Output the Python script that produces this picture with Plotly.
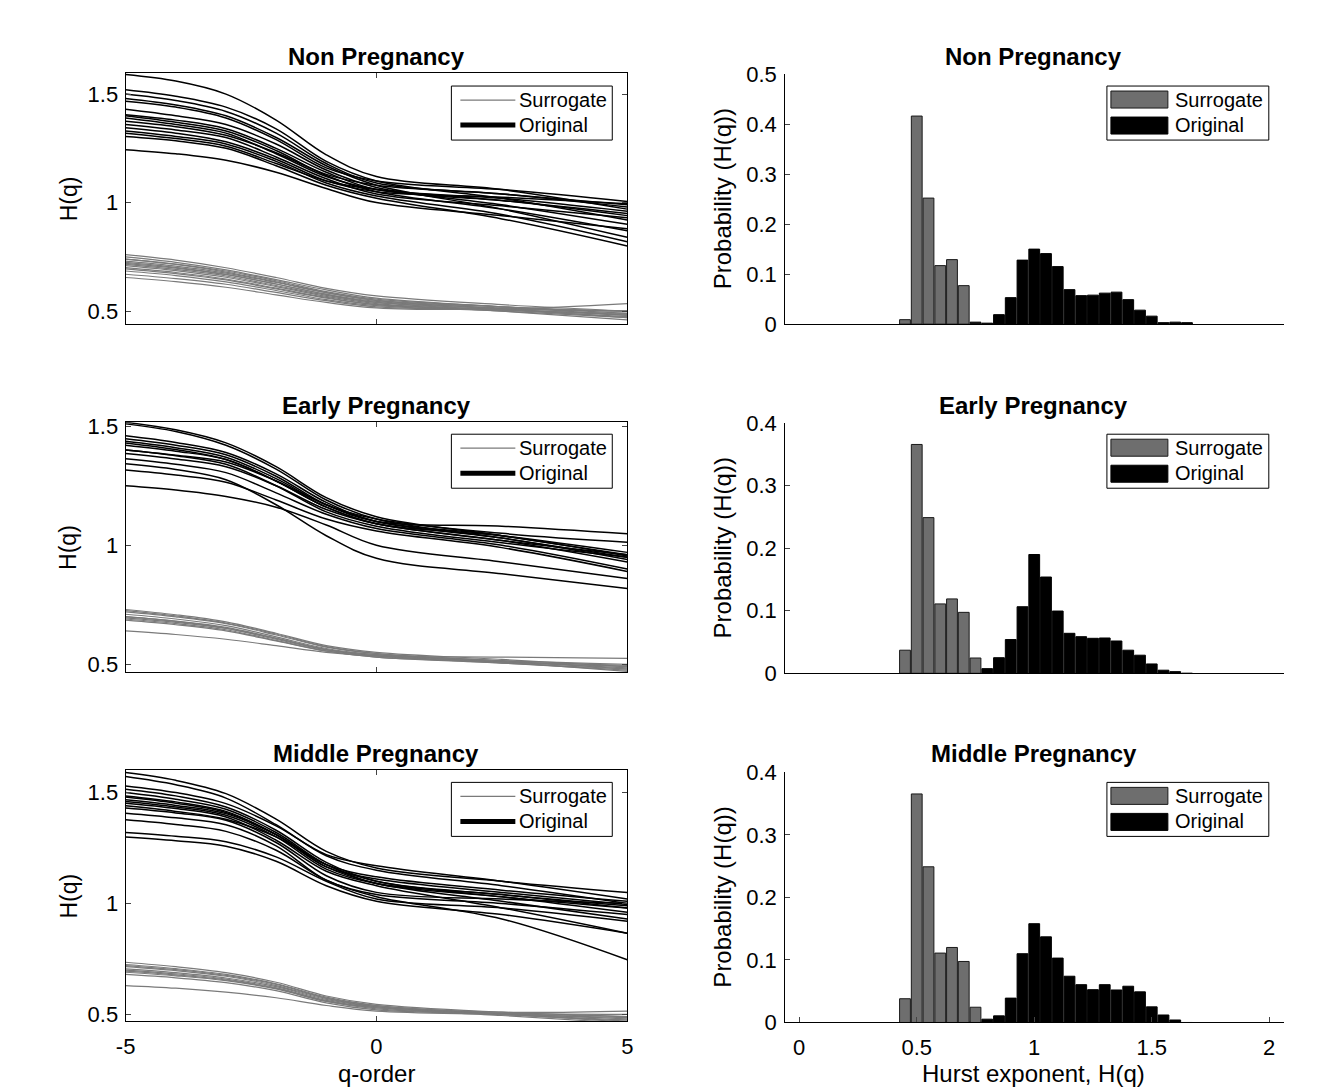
import plotly.graph_objects as go

# figure canvas; screen coordinates of the reference are mapped onto it below
W, H = 1322, 1110
FONT = "Liberation Sans, Arial, Helvetica, sans-serif"

# ---------------- data ----------------
Q_PTS = [-5, -4, -3, -2, -1, 0, 2.5, 5]

non_orig = [
    [1.590, 1.560, 1.500, 1.380, 1.220, 1.120, 1.060, 0.970],
    [1.520, 1.490, 1.440, 1.340, 1.190, 1.100, 1.020, 0.920],
    [1.500, 1.470, 1.420, 1.320, 1.180, 1.090, 1.040, 0.990],
    [1.480, 1.450, 1.400, 1.300, 1.170, 1.080, 0.970, 0.840],
    [1.467, 1.440, 1.390, 1.290, 1.160, 1.100, 1.060, 1.005],
    [1.430, 1.400, 1.360, 1.270, 1.150, 1.070, 0.990, 0.900],
    [1.405, 1.380, 1.340, 1.250, 1.140, 1.060, 1.010, 0.950],
    [1.400, 1.370, 1.330, 1.240, 1.125, 1.050, 0.970, 0.870],
    [1.375, 1.350, 1.310, 1.230, 1.130, 1.080, 1.040, 0.980],
    [1.360, 1.335, 1.300, 1.210, 1.110, 1.040, 0.985, 0.930],
    [1.345, 1.320, 1.280, 1.200, 1.100, 1.050, 1.025, 0.995],
    [1.330, 1.305, 1.270, 1.190, 1.090, 1.030, 0.945, 0.820],
    [1.305, 1.285, 1.250, 1.170, 1.080, 1.020, 0.925, 0.800],
    [1.244, 1.225, 1.195, 1.140, 1.065, 1.000, 0.940, 0.880],
    [1.390, 1.360, 1.320, 1.225, 1.120, 1.060, 1.020, 0.960],
    [1.320, 1.295, 1.260, 1.180, 1.100, 1.060, 1.010, 0.940],
]
non_surr = [
    [0.760, 0.735, 0.700, 0.655, 0.605, 0.570, 0.530, 0.500],
    [0.750, 0.725, 0.690, 0.645, 0.598, 0.560, 0.520, 0.480],
    [0.740, 0.717, 0.685, 0.640, 0.590, 0.555, 0.520, 0.490],
    [0.730, 0.707, 0.675, 0.632, 0.585, 0.550, 0.510, 0.470],
    [0.720, 0.698, 0.668, 0.625, 0.578, 0.545, 0.515, 0.500],
    [0.715, 0.692, 0.662, 0.618, 0.573, 0.540, 0.510, 0.480],
    [0.710, 0.687, 0.656, 0.613, 0.568, 0.535, 0.500, 0.460],
    [0.700, 0.678, 0.648, 0.606, 0.563, 0.530, 0.505, 0.490],
    [0.695, 0.673, 0.644, 0.602, 0.560, 0.530, 0.510, 0.500],
    [0.685, 0.664, 0.635, 0.595, 0.553, 0.525, 0.500, 0.470],
    [0.670, 0.650, 0.624, 0.586, 0.548, 0.520, 0.505, 0.485],
    [0.655, 0.636, 0.610, 0.575, 0.540, 0.515, 0.510, 0.535],
    [0.740, 0.715, 0.680, 0.635, 0.585, 0.550, 0.520, 0.500],
    [0.725, 0.702, 0.670, 0.625, 0.577, 0.540, 0.505, 0.475],
]

early_orig = [
    [1.517, 1.485, 1.430, 1.330, 1.200, 1.120, 1.040, 0.960],
    [1.510, 1.478, 1.420, 1.320, 1.190, 1.110, 1.030, 0.950],
    [1.460, 1.432, 1.390, 1.300, 1.180, 1.100, 1.030, 0.940],
    [1.447, 1.420, 1.380, 1.290, 1.170, 1.100, 1.080, 1.048],
    [1.437, 1.410, 1.370, 1.280, 1.170, 1.110, 1.050, 1.013],
    [1.420, 1.395, 1.360, 1.270, 1.160, 1.090, 1.020, 0.930],
    [1.400, 1.376, 1.340, 1.250, 1.140, 1.080, 1.010, 0.950],
    [1.385, 1.362, 1.330, 1.250, 1.150, 1.090, 1.020, 0.960],
    [1.363, 1.340, 1.305, 1.220, 1.130, 1.070, 1.000, 0.900],
    [1.342, 1.318, 1.275, 1.170, 1.040, 0.945, 0.880, 0.818],
    [1.316, 1.295, 1.265, 1.190, 1.110, 1.060, 0.990, 0.890],
    [1.250, 1.232, 1.205, 1.160, 1.085, 1.000, 0.930, 0.860],
    [1.430, 1.402, 1.360, 1.270, 1.160, 1.090, 1.040, 0.970],
    [1.400, 1.378, 1.350, 1.270, 1.170, 1.100, 1.040, 0.955],
]
early_surr = [
    [0.730, 0.708, 0.678, 0.630, 0.578, 0.550, 0.520, 0.490],
    [0.720, 0.699, 0.670, 0.623, 0.572, 0.545, 0.515, 0.480],
    [0.710, 0.690, 0.662, 0.615, 0.566, 0.540, 0.510, 0.490],
    [0.700, 0.681, 0.655, 0.610, 0.562, 0.535, 0.510, 0.485],
    [0.695, 0.676, 0.650, 0.605, 0.560, 0.535, 0.505, 0.480],
    [0.690, 0.671, 0.645, 0.600, 0.556, 0.530, 0.505, 0.475],
    [0.685, 0.666, 0.640, 0.598, 0.555, 0.530, 0.510, 0.495],
    [0.640, 0.625, 0.605, 0.578, 0.550, 0.535, 0.530, 0.525],
    [0.700, 0.680, 0.652, 0.608, 0.562, 0.540, 0.515, 0.500],
    [0.725, 0.703, 0.673, 0.627, 0.574, 0.545, 0.510, 0.470],
]

mid_orig = [
    [1.590, 1.555, 1.495, 1.380, 1.235, 1.160, 1.100, 1.050],
    [1.572, 1.535, 1.475, 1.355, 1.215, 1.150, 1.080, 1.000],
    [1.530, 1.500, 1.450, 1.350, 1.220, 1.170, 1.100, 1.020],
    [1.515, 1.485, 1.435, 1.330, 1.185, 1.100, 1.040, 0.990],
    [1.500, 1.470, 1.425, 1.320, 1.175, 1.090, 1.030, 0.960],
    [1.485, 1.458, 1.415, 1.310, 1.165, 1.090, 1.010, 0.930],
    [1.467, 1.442, 1.405, 1.310, 1.175, 1.100, 1.030, 0.980],
    [1.452, 1.428, 1.390, 1.285, 1.145, 1.080, 0.980, 0.866],
    [1.430, 1.408, 1.375, 1.275, 1.125, 1.050, 1.020, 1.000],
    [1.407, 1.386, 1.355, 1.260, 1.105, 1.040, 1.000, 0.950],
    [1.377, 1.356, 1.325, 1.240, 1.105, 1.030, 0.930, 0.746],
    [1.320, 1.303, 1.278, 1.210, 1.100, 1.020, 0.980, 0.920],
    [1.300, 1.283, 1.258, 1.190, 1.080, 1.010, 0.950, 0.866],
    [1.460, 1.435, 1.398, 1.300, 1.155, 1.090, 1.040, 0.980],
    [1.440, 1.415, 1.380, 1.300, 1.175, 1.120, 1.060, 1.010],
    [1.480, 1.452, 1.410, 1.310, 1.165, 1.110, 1.050, 0.995],
]
mid_surr = [
    [0.735, 0.715, 0.688, 0.645, 0.583, 0.545, 0.510, 0.490],
    [0.725, 0.706, 0.680, 0.638, 0.578, 0.540, 0.505, 0.480],
    [0.715, 0.697, 0.672, 0.630, 0.572, 0.535, 0.500, 0.475],
    [0.705, 0.688, 0.664, 0.625, 0.568, 0.535, 0.505, 0.490],
    [0.700, 0.683, 0.659, 0.620, 0.563, 0.530, 0.500, 0.470],
    [0.690, 0.674, 0.652, 0.615, 0.558, 0.525, 0.505, 0.500],
    [0.680, 0.665, 0.643, 0.607, 0.552, 0.520, 0.500, 0.465],
    [0.630, 0.618, 0.600, 0.575, 0.540, 0.515, 0.500, 0.485],
    [0.720, 0.702, 0.676, 0.635, 0.574, 0.540, 0.510, 0.515],
    [0.695, 0.678, 0.655, 0.617, 0.560, 0.530, 0.495, 0.460],
]

SURR_BINS = [0.45, 0.50, 0.55, 0.60, 0.65, 0.70, 0.75]
ORIG_BINS = [0.75, 0.80, 0.85, 0.90, 0.95, 1.00, 1.05, 1.10, 1.15, 1.20,
             1.25, 1.30, 1.35, 1.40, 1.45, 1.50, 1.55, 1.60, 1.65]

non_surr_prob = [0.009, 0.416, 0.252, 0.117, 0.129, 0.077, 0.0]
non_orig_prob = [0.004, 0.002, 0.019, 0.053, 0.128, 0.150, 0.141, 0.115, 0.069, 0.057,
                 0.058, 0.062, 0.064, 0.049, 0.028, 0.016, 0.003, 0.004, 0.003]
early_surr_prob = [0.037, 0.366, 0.249, 0.111, 0.119, 0.0975, 0.0245]
early_orig_prob = [0.0, 0.0075, 0.025, 0.054, 0.1065, 0.190, 0.154, 0.0996, 0.064, 0.0586,
                   0.056, 0.0565, 0.0517, 0.037, 0.029, 0.015, 0.005, 0.0027, 0.0]
mid_surr_prob = [0.038, 0.3655, 0.249, 0.111, 0.120, 0.0976, 0.0244]
mid_orig_prob = [0.002, 0.0053, 0.0106, 0.039, 0.110, 0.158, 0.137, 0.103, 0.074, 0.0605,
                 0.0525, 0.0605, 0.052, 0.058, 0.049, 0.025, 0.012, 0.004, 0.0]

TITLES = ["Non Pregnancy", "Early Pregnancy", "Middle Pregnancy"]
LEGEND_LABELS = ["Surrogate", "Original"]
LEFT_TICKS = [0.5, 1, 1.5]
LEFT_TICKTEXT = ["0.5", "1", "1.5"]
QTICKS = [-5, 0, 5]
QTICKTEXT = ["-5", "0", "5"]
HTICKS = [0, 0.5, 1, 1.5, 2]
HTICKTEXT = ["0", "0.5", "1", "1.5", "2"]

# ---------------- styling ----------------
GRAY = "#6e6e6e"
LINEGRAY = "#7a7a7a"
TICK_SIZE = 22
TITLE_SIZE = 24
LABEL_SIZE = 24
LEG_SIZE = 20

# screen (reference pixel) -> figure pixel
SX, OX = 0.9886, 9.3
SY, OY = 0.977, 13.0


def fx(x):
    return (x - OX) / SX


def fy(y):
    return (y - OY) / SY


def px_x(x):
    return fx(x) / W


def px_y(y):
    return 1 - fy(y) / H


left_rows = [(74, 325), (423, 673), (771, 1022)]
right_rows = [(75, 325), (424, 674), (773, 1023)]
left_yranges = [[0.44, 1.597], [0.466, 1.517], [0.468, 1.60]]
right_yranges = [[0, 0.5], [0, 0.4], [0, 0.4]]
title_y = [57, 406, 754]
legend_off = [0, 348, 696]

orig_sets = [non_orig, early_orig, mid_orig]
surr_sets = [non_surr, early_surr, mid_surr]
hist_surr = [non_surr_prob, early_surr_prob, mid_surr_prob]
hist_orig = [non_orig_prob, early_orig_prob, mid_orig_prob]

fig = go.Figure()
layout = dict(
    width=W, height=H, margin=dict(l=0, r=0, t=0, b=0),
    paper_bgcolor="white", plot_bgcolor="white",
    font=dict(family=FONT, size=TICK_SIZE, color="black"),
    barmode="overlay", showlegend=False,
)
annotations = []
shapes = []

for i in range(3):
    lx = "x" if i == 0 else f"x{2 * i + 1}"
    ly = "y" if i == 0 else f"y{2 * i + 1}"
    rx = f"x{2 * i + 2}"
    ry = f"y{2 * i + 2}"

    for s in surr_sets[i]:
        fig.add_trace(go.Scatter(x=Q_PTS, y=s, mode="lines", xaxis=lx, yaxis=ly,
                                 line=dict(color=LINEGRAY, width=1.2, shape="spline", smoothing=1.0),
                                 hoverinfo="skip"))
    for o in orig_sets[i]:
        fig.add_trace(go.Scatter(x=Q_PTS, y=o, mode="lines", xaxis=lx, yaxis=ly,
                                 line=dict(color="black", width=1.5, shape="spline", smoothing=1.0),
                                 hoverinfo="skip"))

    fig.add_trace(go.Bar(x=ORIG_BINS, y=hist_orig[i], xaxis=rx, yaxis=ry, width=0.046,
                         marker=dict(color="black", line=dict(color="black", width=1))))
    fig.add_trace(go.Bar(x=SURR_BINS, y=hist_surr[i], xaxis=rx, yaxis=ry, width=0.046,
                         marker=dict(color=GRAY, line=dict(color="#1a1a1a", width=1))))

    t, b = left_rows[i]
    laxis = dict(domain=[px_y(b), px_y(t)], range=left_yranges[i], anchor=lx,
                 tickvals=LEFT_TICKS, ticktext=LEFT_TICKTEXT, ticks="inside", ticklen=5,
                 showline=True, linecolor="black", linewidth=1, mirror="ticks",
                 showgrid=False, zeroline=False, ticklabelstandoff=2,
                 tickfont=dict(size=TICK_SIZE))
    xaxis_l = dict(domain=[px_x(125), px_x(627)], range=[-5, 5], anchor=ly,
                   tickvals=QTICKS, ticktext=QTICKTEXT, ticks="inside", ticklen=5,
                   showline=True, linecolor="black", linewidth=1, mirror="ticks",
                   showgrid=False, zeroline=False, showticklabels=(i == 2),
                   ticklabelstandoff=5, tickfont=dict(size=TICK_SIZE))
    t2, b2 = right_rows[i]
    raxis = dict(domain=[px_y(b2), px_y(t2)], range=right_yranges[i], anchor=rx,
                 dtick=0.1, ticks="inside", ticklen=5, showline=True, linecolor="black",
                 linewidth=1, showgrid=False, zeroline=False, ticklabelstandoff=3,
                 tickfont=dict(size=TICK_SIZE))
    xaxis_r = dict(domain=[px_x(785), px_x(1284)], range=[-0.06, 2.062], anchor=ry,
                   tickvals=HTICKS, ticktext=HTICKTEXT,
                   ticks="inside" if i == 2 else "", ticklen=5, showline=True,
                   linecolor="black", linewidth=1, showgrid=False, zeroline=False,
                   showticklabels=(i == 2), ticklabelstandoff=5,
                   tickfont=dict(size=TICK_SIZE))

    layout["xaxis" if i == 0 else f"xaxis{2 * i + 1}"] = xaxis_l
    layout["yaxis" if i == 0 else f"yaxis{2 * i + 1}"] = laxis
    layout[f"xaxis{2 * i + 2}"] = xaxis_r
    layout[f"yaxis{2 * i + 2}"] = raxis

    for cx in (376, 1034):
        annotations.append(dict(text=f"<b>{TITLES[i]}</b>", x=px_x(cx), y=px_y(title_y[i]),
                                xref="paper", yref="paper", showarrow=False,
                                xanchor="center", yanchor="middle",
                                font=dict(size=TITLE_SIZE, family=FONT)))
    annotations.append(dict(text="H(q)", x=px_x(68), y=px_y((t + b) / 2), xref="paper",
                            yref="paper", showarrow=False, textangle=-90, xanchor="center",
                            yanchor="middle", font=dict(size=LABEL_SIZE - 1, family=FONT)))
    annotations.append(dict(text="Probability (H(q))", x=px_x(722), y=px_y((t2 + b2) / 2),
                            xref="paper", yref="paper", showarrow=False, textangle=-90,
                            xanchor="center", yanchor="middle",
                            font=dict(size=LABEL_SIZE, family=FONT)))

    off = legend_off[i]
    shapes.append(dict(type="rect", xref="paper", yref="paper",
                       x0=px_x(451), x1=px_x(612), y0=px_y(141 + off), y1=px_y(87 + off),
                       line=dict(color="black", width=1), fillcolor="white", layer="above"))
    shapes.append(dict(type="line", xref="paper", yref="paper",
                       x0=px_x(460), x1=px_x(515), y0=px_y(101 + off), y1=px_y(101 + off),
                       line=dict(color=LINEGRAY, width=1.2), layer="above"))
    shapes.append(dict(type="line", xref="paper", yref="paper",
                       x0=px_x(460), x1=px_x(515), y0=px_y(126 + off), y1=px_y(126 + off),
                       line=dict(color="black", width=5), layer="above"))
    shapes.append(dict(type="rect", xref="paper", yref="paper",
                       x0=px_x(1107), x1=px_x(1269), y0=px_y(141 + off), y1=px_y(87 + off),
                       line=dict(color="black", width=1), fillcolor="white", layer="above"))
    shapes.append(dict(type="rect", xref="paper", yref="paper",
                       x0=px_x(1111), x1=px_x(1168), y0=px_y(109 + off), y1=px_y(92 + off),
                       line=dict(color="#1a1a1a", width=1), fillcolor=GRAY, layer="above"))
    shapes.append(dict(type="rect", xref="paper", yref="paper",
                       x0=px_x(1111), x1=px_x(1168), y0=px_y(135 + off), y1=px_y(118 + off),
                       line=dict(color="black", width=1), fillcolor="black", layer="above"))
    for lab, yy in zip(LEGEND_LABELS, (101, 126)):
        for tx in (517, 1173):
            annotations.append(dict(text=lab, x=px_x(tx), y=px_y(yy + off), xref="paper",
                                    yref="paper", showarrow=False, xanchor="left",
                                    yanchor="middle", font=dict(size=LEG_SIZE, family=FONT)))

annotations.append(dict(text="q-order", x=px_x(376), y=px_y(1074), xref="paper", yref="paper",
                        showarrow=False, xanchor="center", yanchor="middle",
                        font=dict(size=LABEL_SIZE, family=FONT)))
annotations.append(dict(text="Hurst exponent, H(q)", x=px_x(1034), y=px_y(1074), xref="paper",
                        yref="paper", showarrow=False, xanchor="center", yanchor="middle",
                        font=dict(size=LABEL_SIZE, family=FONT)))

layout["annotations"] = annotations
layout["shapes"] = shapes
fig.update_layout(**layout)
fig.write_html("out.html")
